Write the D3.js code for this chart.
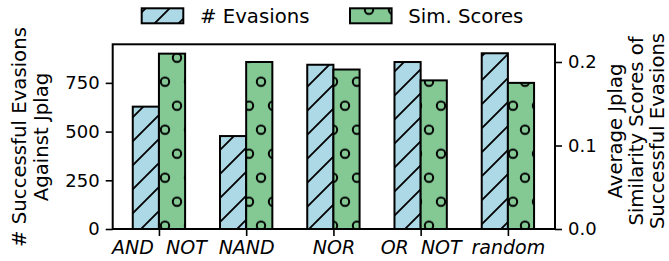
<!DOCTYPE html>
<html>
<head>
<meta charset="utf-8">
<script src="https://cdn.jsdelivr.net/npm/d3@7"></script>
<style>
  body { margin: 0; background: #fff; }
  text { font-family: "DejaVu Sans", sans-serif; fill: #000; }
</style>
</head>
<body>
<svg id="chart" width="669" height="261"></svg>
<script>
const categories = ['AND  NOT', 'NAND', 'NOR', 'OR  NOT', 'random'];
const evasions = [628, 477, 843, 857, 902];
const simScores = [0.210, 0.200, 0.191, 0.178, 0.175];
const leftTicks = [0, 250, 500, 750];
const rightTicks = [0.0, 0.1, 0.2];

const svg = d3.select('#chart');
const plotLeft = 112.7, plotRight = 555, plotTop = 44.3, plotBottom = 229;
const barW = 0.3;
const blue = '#add8e6', green = '#84c994';

const xScale = d3.scaleLinear().domain([-0.53, 4.54]).range([plotLeft, plotRight]);
const yLeft = d3.scaleLinear().domain([0, 948]).range([plotBottom, plotTop]);
const yRight = d3.scaleLinear().domain([0, 0.2212]).range([plotBottom, plotTop]);

// hatch patterns, placed in absolute svg coordinates
const defs = svg.append('defs');
const slash = defs.append('pattern').attr('id', 'slash')
    .attr('patternUnits', 'userSpaceOnUse')
    .attr('width', 24).attr('height', 24);
slash.append('path')
    .attr('d', 'M-2,12L12,-2M8,26L26,8')
    .attr('stroke', '#000').attr('stroke-width', 1.8);

const dots = defs.append('pattern').attr('id', 'dots')
    .attr('patternUnits', 'userSpaceOnUse')
    .attr('x', -3).attr('y', -2.3)
    .attr('width', 24).attr('height', 48);
[[12, 12], [0, 36], [24, 36]].forEach(([cx, cy]) => {
    dots.append('circle').attr('cx', cx).attr('cy', cy).attr('r', 4.2)
        .attr('fill', 'none').attr('stroke', '#000').attr('stroke-width', 2);
});

const drawBar = (x, y, w, h, color, pattern) => {
    svg.append('rect').attr('x', x).attr('y', y).attr('width', w).attr('height', h).attr('fill', color);
    svg.append('rect').attr('x', x).attr('y', y).attr('width', w).attr('height', h)
        .attr('fill', `url(#${pattern})`)
        .attr('stroke', '#000').attr('stroke-width', 2);
};

categories.forEach((c, i) => {
    const x0 = xScale(i - barW), x1 = xScale(i), x2 = xScale(i + barW);
    drawBar(x0, yLeft(evasions[i]), x1 - x0, plotBottom - yLeft(evasions[i]), blue, 'slash');
    drawBar(x1, yRight(simScores[i]), x2 - x1, plotBottom - yRight(simScores[i]), green, 'dots');
});

// frame
svg.append('rect').attr('x', plotLeft).attr('y', plotTop)
    .attr('width', plotRight - plotLeft).attr('height', plotBottom - plotTop)
    .attr('fill', 'none').attr('stroke', '#000').attr('stroke-width', 2);

// axes
const gx = svg.append('g').attr('transform', `translate(0,${plotBottom})`)
    .call(d3.axisBottom(xScale).tickValues(d3.range(categories.length))
        .tickFormat(i => categories[i]).tickSize(7).tickPadding(5));
gx.selectAll('text').style('font-size', '19px').style('font-style', 'italic')
    .style('white-space', 'pre');

const gl = svg.append('g').attr('transform', `translate(${plotLeft},0)`)
    .call(d3.axisLeft(yLeft).tickValues(leftTicks).tickSize(7).tickPadding(6));
gl.selectAll('text').style('font-size', '18px');

const gr = svg.append('g').attr('transform', `translate(${plotRight},0)`)
    .call(d3.axisRight(yRight).tickValues(rightTicks).tickFormat(d3.format('.1f')).tickSize(7).tickPadding(6));
gr.selectAll('text').style('font-size', '18px');

[gx, gl, gr].forEach(g => {
    g.select('.domain').remove();
    g.selectAll('line').attr('stroke', '#000').attr('stroke-width', 1.6);
    g.selectAll('text').attr('fill', '#000').style('font-family', 'DejaVu Sans');
});

// axis titles
const leftTitle = ['# Successful Evasions', 'Against Jplag'];
const rightTitle = ['Average Jplag', 'Similarity Scores of', 'Successful Evasions'];
[[26, leftTitle[0]], [48, leftTitle[1]]].forEach(([x, t]) => {
    svg.append('text').attr('transform', `translate(${x},137) rotate(-90)`)
        .attr('text-anchor', 'middle').style('font-size', '19.7px').text(t);
});
[[621.8, rightTitle[0]], [643.2, rightTitle[1]], [664.4, rightTitle[2]]].forEach(([x, t]) => {
    svg.append('text').attr('transform', `translate(${x},131) rotate(-90)`)
        .attr('text-anchor', 'middle').style('font-size', '19.6px').text(t);
});

// legend
const legend = [
    { label: '# Evasions', color: blue, pattern: 'slash', x: 141.7 },
    { label: 'Sim. Scores', color: green, pattern: 'dots', x: 350 }
];
legend.forEach(d => {
    drawBar(d.x, 8.3, 41.6, 15, d.color, d.pattern);
    svg.append('text').attr('x', d.x + 58.3).attr('y', 23)
        .style('font-size', '19.7px').text(d.label);
});
</script>
</body>
</html>
